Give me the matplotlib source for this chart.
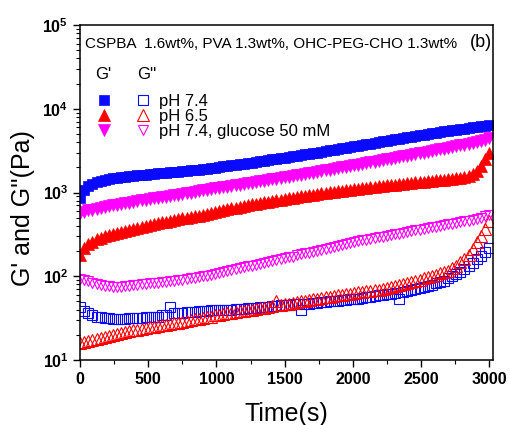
#%% Imports
import numpy as np
import matplotlib
matplotlib.use('Agg')
import matplotlib.pyplot as plt
from matplotlib.legend_handler import HandlerTuple
from matplotlib.ticker import FixedLocator, LogLocator, FuncFormatter, NullFormatter

plt.rcParams['font.family'] = ['Liberation Sans', 'DejaVu Sans']
plt.rcParams['mathtext.fontset'] = 'custom'
plt.rcParams['mathtext.rm'] = 'Liberation Sans'
plt.rcParams['mathtext.bf'] = 'Liberation Sans:bold'

#%% Data: moduli (Pa) sampled every 30 s from 0 to 3000 s
time_s = np.arange(0, 3001, 30)

gp_ph74 = [
    860, 1070, 1200, 1280, 1340, 1390, 1430, 1460, 1490, 1510,
    1530, 1550, 1570, 1590, 1605, 1620, 1640, 1655, 1670, 1690,
    1705, 1720, 1740, 1760, 1780, 1800, 1820, 1840, 1860, 1880,
    1900, 1930, 1960, 1990, 2020, 2050, 2080, 2110, 2140, 2170,
    2200, 2240, 2280, 2320, 2360, 2400, 2440, 2480, 2520, 2560,
    2600, 2650, 2700, 2750, 2800, 2850, 2900, 2950, 3000, 3060,
    3120, 3180, 3240, 3300, 3360, 3420, 3490, 3560, 3630, 3700,
    3770, 3840, 3910, 3990, 4070, 4150, 4230, 4310, 4390, 4470,
    4550, 4640, 4730, 4820, 4910, 5000, 5090, 5180, 5270, 5360,
    5450, 5540, 5630, 5720, 5810, 5900, 6000, 6100, 6200, 6300,
    6400,
]
gp_ph65 = [
    180, 215, 240, 260, 275, 290, 300, 310, 320, 330,
    340, 350, 360, 370, 380, 390, 400, 410, 420, 430,
    440, 450, 460, 470, 480, 490, 500, 510, 520, 530,
    540, 555, 570, 585, 600, 615, 630, 645, 660, 675,
    690, 705, 720, 735, 750, 765, 780, 795, 810, 825,
    840, 855, 870, 885, 900, 915, 930, 945, 960, 975,
    990, 1005, 1020, 1035, 1050, 1065, 1080, 1095, 1110, 1125,
    1140, 1155, 1170, 1185, 1200, 1215, 1230, 1245, 1260, 1275,
    1290, 1305, 1320, 1335, 1350, 1365, 1380, 1395, 1410, 1430,
    1450, 1470, 1490, 1510, 1540, 1580, 1650, 1800, 2100, 2500,
    3000,
]
gp_glucose = [
    570, 590, 610, 625, 640, 655, 670, 685, 700, 715,
    730, 745, 760, 775, 790, 805, 820, 835, 850, 865,
    880, 895, 910, 925, 940, 960, 980, 1000, 1020, 1040,
    1060, 1080, 1100, 1120, 1140, 1160, 1180, 1200, 1220, 1240,
    1265, 1290, 1315, 1340, 1365, 1390, 1415, 1440, 1465, 1490,
    1515, 1545, 1575, 1605, 1635, 1665, 1695, 1725, 1760, 1800,
    1840, 1880, 1920, 1960, 2000, 2040, 2080, 2120, 2160, 2200,
    2240, 2290, 2340, 2390, 2440, 2490, 2540, 2590, 2640, 2700,
    2760, 2820, 2880, 2940, 3000, 3070, 3140, 3210, 3280, 3350,
    3420, 3500, 3580, 3660, 3740, 3830, 3920, 4010, 4100, 4250,
    4500,
]
gpp_ph74 = [
    43, 38, 36, 34, 33, 33, 32, 32, 31, 31,
    31, 31, 32, 32, 32, 32, 33, 33, 33, 33,
    34, 34, 43, 36, 36, 36, 37, 37, 37, 38,
    38, 38, 39, 39, 39, 40, 40, 40, 41, 41,
    41, 42, 42, 42, 43, 43, 43, 44, 44, 45,
    45, 45, 46, 46, 40, 47, 47, 48, 48, 49,
    49, 50, 50, 51, 52, 52, 53, 54, 54, 55,
    56, 57, 58, 59, 60, 61, 62, 63, 54, 64,
    66, 68, 70, 72, 74, 76, 79, 82, 85, 88,
    95, 100, 106, 113, 122, 132, 145, 160, 175, 195,
    215,
]
gpp_ph65 = [
    16, 16.5, 17, 17.5, 18, 18.5, 19, 19.5, 20, 20.5,
    21, 21.5, 22, 22.5, 23, 23.5, 24, 24.5, 25, 25.5,
    26, 26.5, 27, 27.5, 28, 28.5, 29, 30, 30.5, 31,
    32, 32.5, 33, 34, 34.5, 35, 36, 36.5, 37, 38,
    38.5, 39, 40, 41, 41.5, 42, 43, 44, 50, 45,
    46, 47, 48, 49, 50, 51, 52, 53, 54, 55,
    56, 57, 58, 59, 60, 61, 62, 63, 64, 65,
    66, 67, 68, 69, 70, 72, 74, 76, 78, 80,
    84, 86, 88, 91, 94, 97, 100, 104, 108, 112,
    116, 124, 134, 146, 160, 180, 210, 255, 305, 370,
    460,
]
gpp_glucose = [
    92, 90, 87, 84, 81, 79, 77, 76, 75, 75,
    75, 76, 77, 78, 79, 80, 81, 82, 83, 84,
    85, 86, 87, 88, 89, 90, 92, 94, 96, 98,
    100, 102, 104, 107, 110, 113, 116, 119, 122, 125,
    128, 131, 134, 137, 140, 144, 148, 152, 156, 160,
    164, 168, 172, 177, 182, 187, 192, 197, 202, 208,
    214, 220, 226, 232, 238, 244, 250, 256, 262, 268,
    274, 280, 286, 292, 298, 304, 310, 317, 324, 331,
    338, 345, 352, 360, 368, 376, 384, 392, 400, 408,
    416, 425, 434, 443, 452, 462, 472, 484, 496, 520,
    545,
]

labels = ['pH 7.4', 'pH 6.5', 'pH 7.4, glucose 50 mM']
blue, red, magenta = '#0a0aff', '#ff0000', '#ff00ff'

#%% Plot
f, ax = plt.subplots(figsize=(5.11, 4.25), dpi=100)
f.subplots_adjust(left=0.157, right=0.965, bottom=0.153, top=0.941)

h_gp74, = ax.plot(time_s, gp_ph74, ls='none', marker='s', ms=7,
                  mfc=blue, mec=blue, mew=0.5)
h_gp65, = ax.plot(time_s, gp_ph65, ls='none', marker='^', ms=8,
                  mfc=red, mec=red, mew=0.5)
h_gpg, = ax.plot(time_s, gp_glucose, ls='none', marker='v', ms=8,
                 mfc=magenta, mec=magenta, mew=0.5)
h_gpp74, = ax.plot(time_s, gpp_ph74, ls='none', marker='s', ms=6.5,
                   mfc='none', mec=blue, mew=0.8)
h_gpp65, = ax.plot(time_s, gpp_ph65, ls='none', marker='^', ms=8,
                   mfc='none', mec=red, mew=0.8)
h_gppg, = ax.plot(time_s, gpp_glucose, ls='none', marker='v', ms=7.5,
                  mfc='none', mec=magenta, mew=0.8)

ax.set_yscale('log')
ax.set_xlim(0, 3030)
ax.set_ylim(10, 1e5)

## Ticks
ax.xaxis.set_major_locator(FixedLocator([0, 500, 1000, 1500, 2000, 2500, 3000]))
ax.xaxis.set_minor_locator(FixedLocator([250, 750, 1250, 1750, 2250, 2750]))
ax.yaxis.set_major_locator(LogLocator(base=10, numticks=10))
ax.yaxis.set_minor_locator(LogLocator(base=10, subs=np.arange(2, 10), numticks=10))
ax.yaxis.set_minor_formatter(NullFormatter())
ax.yaxis.set_major_formatter(FuncFormatter(
    lambda v, pos: r'$\mathbf{10^{%d}}$' % round(np.log10(v))))
ax.tick_params(which='major', direction='out', length=5, width=1,
               top=False, right=False, labelsize=11.5)
ax.tick_params(which='minor', direction='out', length=3, width=0.8,
               top=False, right=False)
for lab in ax.get_xticklabels():
    lab.set_fontweight('bold')
for sp in ax.spines.values():
    sp.set_linewidth(1.1)

ax.set_xlabel('Time(s)', fontsize=18, labelpad=11)
ax.set_ylabel("G' and G''(Pa)", fontsize=18)
ax.yaxis.set_label_coords(-0.11, 0.455)

#%% Annotations
ax.text(0.012, 0.942, 'CSPBA  1.6wt%, PVA 1.3wt%, OHC-PEG-CHO 1.3wt%',
        transform=ax.transAxes, fontsize=11.0, va='center', ha='left')
ax.text(0.998, 0.947, '(b)', transform=ax.transAxes, fontsize=13,
        va='center', ha='right')
ax.text(0.037, 0.852, "G'", transform=ax.transAxes, fontsize=12,
        va='center', ha='left')
ax.text(0.138, 0.852, "G''", transform=ax.transAxes, fontsize=12,
        va='center', ha='left')

ax.legend(
    handles=[(h_gp74, h_gpp74), (h_gp65, h_gpp65), (h_gpg, h_gppg)],
    labels=labels,
    handler_map={tuple: HandlerTuple(ndivide=None, pad=0.92)},
    loc='upper left', bbox_to_anchor=(0.0, 0.83), frameon=False,
    fontsize=12, numpoints=1, handlelength=3.75, handletextpad=0.25,
    labelspacing=0.0, borderaxespad=0.3,
)

f.savefig('out.png', dpi=100)
